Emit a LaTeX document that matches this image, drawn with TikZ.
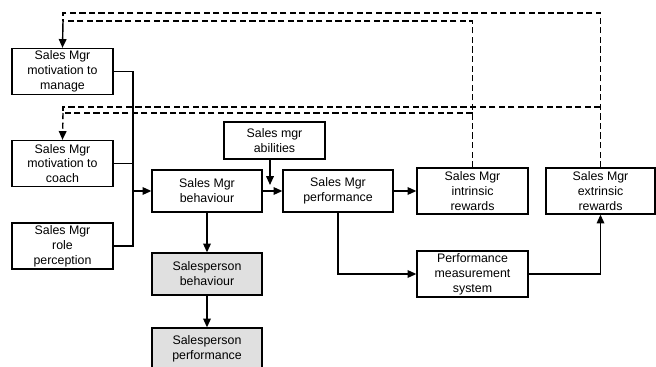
\documentclass[tikz,border=0pt]{standalone}
\usepackage{fontspec}
\setmainfont{Liberation Sans}
\usetikzlibrary{arrows.meta}
\definecolor{SP}{HTML}{e0e0e0}
\tikzset{%
  box/.style={draw, line width=0.9pt, minimum height=1.15cm, align=center, inner sep=1pt, font=\fontsize{8.8}{10.6}\selectfont},%
  wbox/.style={box, minimum width=2.525cm},%
  mbox/.style={box, minimum width=2.75cm, minimum height=1.05cm},%
  rbox/.style={box, minimum width=2.775cm},%
  link/.style={line width=1pt, -{Triangle[length=2.2mm,width=1.9mm]}},%
  plain/.style={line width=1pt},%
  fb/.style={line width=1pt, dash pattern=on 4.4pt off 2.4pt}%
}
\begin{document}
\begin{tikzpicture}[x=0.025cm, y=-0.025cm]%
\useasboundingbox (0,0) rectangle (656,367);%
\node[wbox] (manage) at (62.5, 71.5) {Sales Mgr\\motivation to\\manage};%
\node[wbox] (coach) at (62.5, 163.5) {Sales Mgr\\motivation to\\coach};%
\node[wbox] (role) at (62.5, 246) {Sales Mgr\\role\\perception};%
\node[wbox, minimum height=0.925cm] (abilities) at (274.5, 140.5) {Sales mgr\\abilities};%
\node[mbox] (mgrbeh) at (207, 191) {Sales Mgr\\behaviour};%
\node[mbox] (mgrperf) at (338, 191) {Sales Mgr\\performance};%
\node[rbox] (intrinsic) at (472.5, 191) {Sales Mgr\\intrinsic\\rewards};%
\node[rbox, minimum width=2.725cm] (extrinsic) at (600.5, 191) {Sales Mgr\\extrinsic\\rewards};%
\node[rbox] (pms) at (472.5, 274) {Performance\\measurement\\system};%
\node[mbox, fill=SP] (spbeh) at (207, 274) {Salesperson\\behaviour};%
\node[mbox, fill=SP] (spperf) at (207, 349) {Salesperson\\performance};%
\coordinate (topA) at (63, 13);%
\coordinate (topB) at (63, 21);%
\coordinate (midA) at (63, 107);%
\coordinate (midB) at (63, 113);%
\coordinate (bus) at (133, 191);%
\coordinate (abtip) at (270, 185);%
\draw[fb] (extrinsic.north) |- (topA) -- (topB);%
\draw[fb] (intrinsic.north) |- (topB);%
\draw[link] (topB) -- (manage.north);%
\draw[fb] (extrinsic.north |- midA) -- (midA) -- (midB);%
\draw[fb] (intrinsic.north |- midB) -- (midB);%
\draw[fb, -{Triangle[length=2.2mm,width=1.9mm]}] (midB) -- (coach.north);%
\draw[plain] (manage.east) -| (bus);%
\draw[plain] (coach.east) -| (bus);%
\draw[plain] (role.east) -| (bus);%
\draw[link] (bus) -- (mgrbeh.west);%
\draw[link] (abilities.south -| abtip) -- (abtip);%
\draw[link] (mgrbeh.east) -- (mgrperf.west);%
\draw[link] (mgrperf.east) -- (intrinsic.west);%
\draw[link] (mgrperf.south) |- (pms.west);%
\draw[link] (pms.east) -| (extrinsic.south);%
\draw[link] (mgrbeh.south) -- (spbeh.north);%
\draw[link] (spbeh.south) -- (spperf.north);%
\end{tikzpicture}
\end{document}
